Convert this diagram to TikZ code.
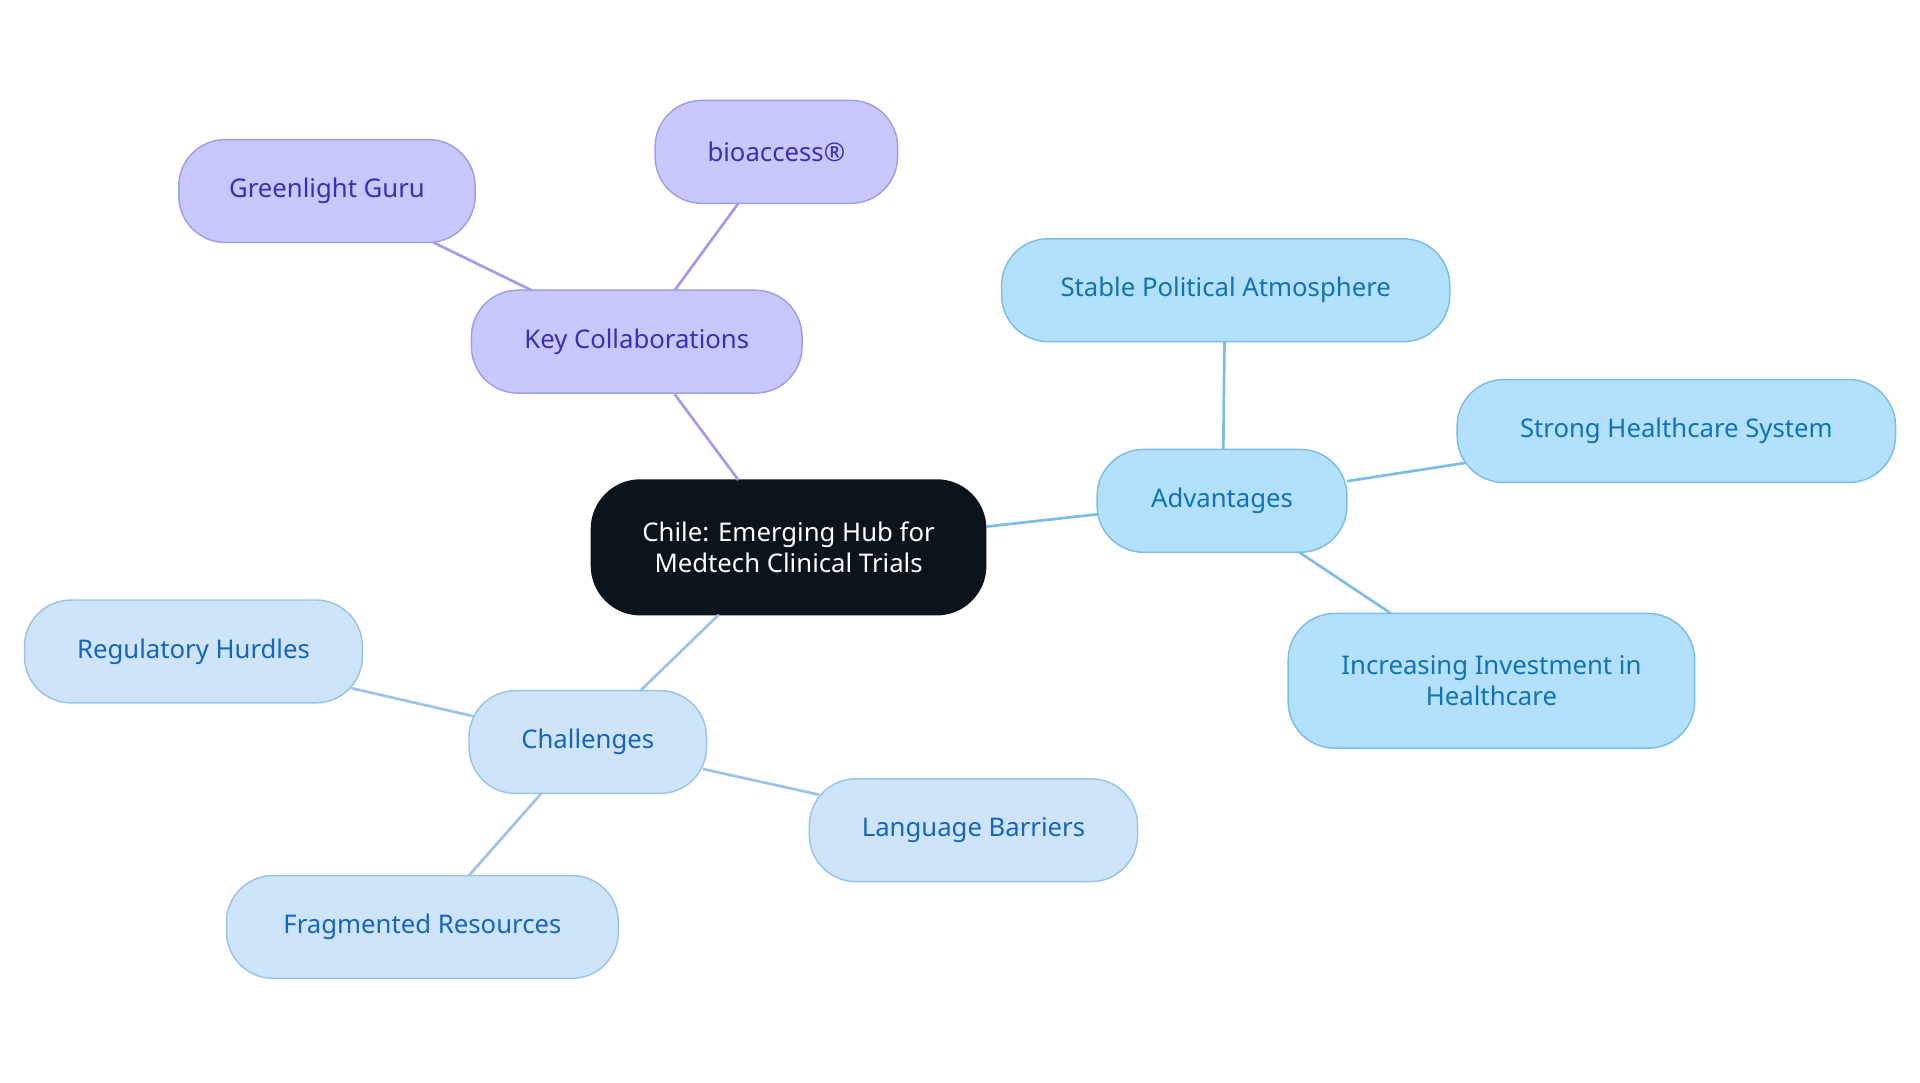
\documentclass[tikz,border=0pt]{standalone}
\usepackage{fontspec}
\setmainfont{Noto Sans}
\begin{document}
\begin{tikzpicture}[x=1pt,y=-1pt,
  base/.style={rounded corners=38pt,draw,line width=1.2pt,inner sep=0pt,align=center,
    font=\fontsize{21}{25}\selectfont,minimum height=84pt},
  root/.style={base,fill=c0,draw=c0,text=white,minimum height=110pt,rounded corners=40pt},
  pur/.style={base,fill=pf,draw=pd,text=pt},
  adv/.style={base,fill=af,draw=ad,text=at},
  cha/.style={base,fill=cf,draw=cd,text=ct},
  pe/.style={draw=pd,line width=2.2pt},
  ae/.style={draw=ad,line width=2.2pt},
  ce/.style={draw=cd,line width=2.2pt}]
\definecolor{c0}{HTML}{0B141B}
\definecolor{pf}{HTML}{C8C8FE}\definecolor{pd}{HTML}{A09EE8}\definecolor{pt}{HTML}{3A2FB5}
\definecolor{af}{HTML}{B3E0FD}\definecolor{ad}{HTML}{7CBDE6}\definecolor{at}{HTML}{1073B8}
\definecolor{cf}{HTML}{CDE4FB}\definecolor{cd}{HTML}{9CC4E8}\definecolor{ct}{HTML}{1565C0}
\useasboundingbox[fill=white] (0,0) rectangle (1568,884);
\node[root,minimum width=322pt] (r) at (644,447) {Chile: Emerging Hub for\\Medtech Clinical Trials};
\node[pur,minimum width=270pt] (k) at (520,279) {Key Collaborations};
\node[pur,minimum width=198pt] (b) at (634,124) {bioaccess®};
\node[pur,minimum width=242pt] (g) at (267,156) {Greenlight Guru};
\node[adv,minimum width=204pt] (a) at (998,409) {Advantages};
\node[adv,minimum width=366pt] (s) at (1001,237) {Stable Political Atmosphere};
\node[adv,minimum width=358pt] (h) at (1369,352) {Strong Healthcare System};
\node[adv,minimum width=332pt,minimum height=110pt] (i) at (1218,556) {Increasing Investment in\\Healthcare};
\node[cha,minimum width=194pt] (c) at (480,606) {Challenges};
\node[cha,minimum width=276pt] (rh) at (158,532) {Regulatory Hurdles};
\node[cha,minimum width=268pt] (l) at (795,678) {Language Barriers};
\node[cha,minimum width=320pt] (f) at (345,757) {Fragmented Resources};
\begin{scope}[on background layer/.try]
\end{scope}
\path[pe] (603,392) -- (551,322);
\path[pe] (551,237) -- (603,166);
\path[pe] (434,237) -- (354,198);
\path[ae] (806,430) -- (896,420);
\path[ae] (999,367) -- (1000,279);
\path[ae] (1100,393) -- (1197,378);
\path[ae] (1061,451) -- (1136,501);
\path[ce] (587,502) -- (523,564);
\path[ce] (387,585) -- (287,562);
\path[ce] (574,628) -- (669,649);
\path[ce] (442,648) -- (383,715);
\end{tikzpicture}
\end{document}
